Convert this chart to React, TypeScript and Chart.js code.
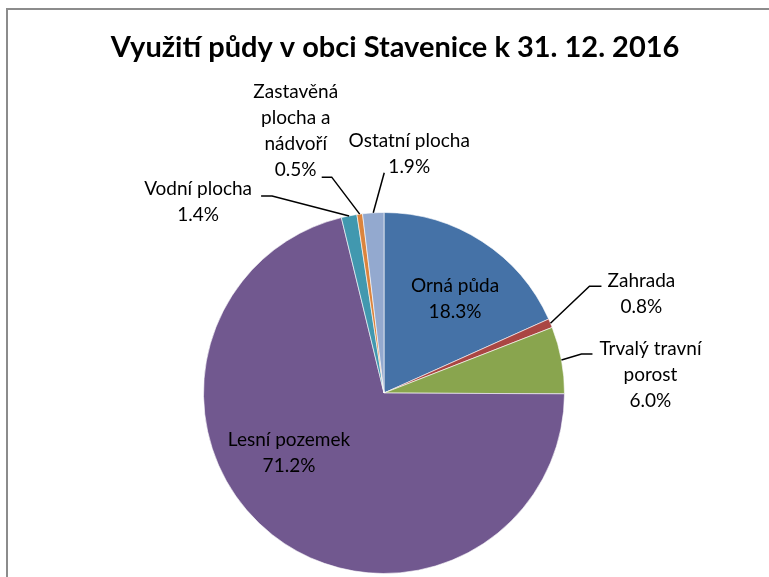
import { useEffect, useRef } from "react";
import { Chart, registerables } from "chart.js";

Chart.register(...registerables);

const TITLE = "Využití půdy v obci Stavenice k 31. 12. 2016";
const categories = [
  "Orná půda",
  "Zahrada",
  "Trvalý travní porost",
  "Lesní pozemek",
  "Vodní plocha",
  "Zastavěná plocha a nádvoří",
  "Ostatní plocha",
];
const shares = [18.3, 0.8, 6.0, 71.2, 1.4, 0.5, 1.9];
const sliceColors = ["#4572A7", "#AA4643", "#89A54E", "#71588F", "#4198AF", "#DB843D", "#93A9CF"];
const labelLines = [
  ["Orná půda"],
  ["Zahrada"],
  ["Trvalý travní", "porost"],
  ["Lesní pozemek"],
  ["Vodní plocha"],
  ["Zastavěná", "plocha a", "nádvoří"],
  ["Ostatní plocha"],
];

// Label layout: inside labels are offsets from pie centre; outside labels are
// offsets from the slice's outer mid-point (leader elbow, leader end, text centre).
type Layout =
  | { kind: "in"; tx: number; ty: number }
  | { kind: "out"; ex: number; ey: number; hx: number; hy: number; tx: number; ty: number };
const labelLayout: Layout[] = [
  { kind: "in", tx: 71, ty: -94 },
  { kind: "out", ex: 39, ey: -37, hx: 51, hy: -37, tx: 91, ty: -29 },
  { kind: "out", ex: 20, ey: -6, hx: 31, hy: -6, tx: 89, ty: 15 },
  { kind: "in", tx: -95, ty: 60 },
  { kind: "out", ex: -77, ey: -20, hx: -88, hy: -20, tx: -151, ty: -14 },
  { kind: "out", ex: -28, ey: -37, hx: -38, hy: -37, tx: -64, ty: -83 },
  { kind: "out", ex: 11, ey: -40, hx: 11, hy: -40, tx: 36, ty: -59 },
];

const FONT = "Lato, 'Open Sans', sans-serif";
const LABEL_SIZE = 19;
const LINE_H = 26;

const decorPlugin = {
  id: "decor",
  beforeDraw(chart: any) {
    const ctx = chart.ctx;
    ctx.save();
    ctx.fillStyle = "#ffffff";
    ctx.fillRect(0, 0, chart.width, chart.height);
    ctx.strokeStyle = "#8c8c8c";
    ctx.lineWidth = 2;
    ctx.beginPath();
    ctx.moveTo(7, chart.height);
    ctx.lineTo(7, 9);
    ctx.lineTo(chart.width, 9);
    ctx.stroke();
    ctx.fillStyle = "#000000";
    ctx.font = `bold 29px ${FONT}`;
    ctx.textAlign = "center";
    ctx.textBaseline = "middle";
    ctx.fillText(TITLE, 395, 48);
    ctx.restore();
  },
  afterDraw(chart: any) {
    const ctx = chart.ctx;
    const meta = chart.getDatasetMeta(0);
    ctx.save();
    ctx.font = `${LABEL_SIZE}px ${FONT}`;
    ctx.textAlign = "center";
    ctx.textBaseline = "middle";
    meta.data.forEach((arc: any, i: number) => {
      const { x, y, startAngle, endAngle, outerRadius } = arc.getProps(
        ["x", "y", "startAngle", "endAngle", "outerRadius"],
        true
      );
      const mid = (startAngle + endAngle) / 2;
      const px = x + Math.cos(mid) * outerRadius;
      const py = y + Math.sin(mid) * outerRadius;
      const lay = labelLayout[i];
      const lines = [...labelLines[i], `${shares[i].toFixed(1)}%`];
      let cx: number, cy: number;
      if (lay.kind === "in") {
        cx = x + lay.tx;
        cy = y + lay.ty;
      } else {
        ctx.strokeStyle = "#000000";
        ctx.lineWidth = 1.5;
        ctx.beginPath();
        ctx.moveTo(px, py);
        ctx.lineTo(px + lay.ex, py + lay.ey);
        ctx.lineTo(px + lay.hx, py + lay.hy);
        ctx.stroke();
        cx = px + lay.tx;
        cy = py + lay.ty;
      }
      ctx.fillStyle = "#000000";
      const n = lines.length;
      lines.forEach((t, k) => {
        ctx.fillText(t, cx, cy + (k - (n - 1) / 2) * LINE_H);
      });
    });
    ctx.restore();
  },
};

export default function App() {
  const ref = useRef<HTMLCanvasElement | null>(null);
  useEffect(() => {
    if (!ref.current) return;
    const chart = new Chart(ref.current, {
      type: "pie",
      data: {
        labels: categories,
        datasets: [
          {
            data: shares,
            backgroundColor: sliceColors,
            borderColor: "rgba(255,255,255,0.6)",
            borderWidth: 1,
          },
        ],
      },
      options: {
        animation: false,
        responsive: true,
        maintainAspectRatio: false,
        layout: { padding: { top: 212, bottom: 3, left: 200, right: 201 } },
        plugins: {
          legend: { display: false },
          tooltip: { enabled: false },
          title: { display: false },
        },
      },
      plugins: [decorPlugin],
    });
    return () => chart.destroy();
  }, []);
  return (
    <div style={{ position: "fixed", left: 0, top: 0, width: 769, height: 577 }}>
      <canvas ref={ref} />
    </div>
  );
}
